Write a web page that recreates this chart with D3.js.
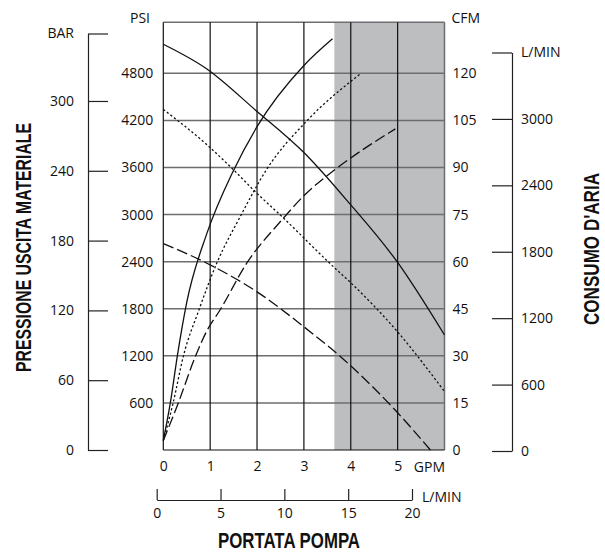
<!DOCTYPE html>
<html>
<head>
<meta charset="utf-8">
<script src="https://cdn.jsdelivr.net/npm/d3@7"></script>
<style>
  body { margin: 0; background: #fff; }
  svg text { font-family: 'Open Sans', 'DejaVu Sans', sans-serif; font-size: 14px; fill: #111; }
  .title { font-family: 'Liberation Sans Narrow', 'Arial Narrow', 'Liberation Sans', sans-serif; font-weight: bold; font-size: 22px; }
</style>
</head>
<body>
<svg id="chart"></svg>
<script>
// tick values
const gpmTicks = [0, 1, 2, 3, 4, 5];
const psiTicks = [600, 1200, 1800, 2400, 3000, 3600, 4200, 4800];
const cfmTicks = [0, 15, 30, 45, 60, 75, 90, 105, 120];
const barTicks = [0, 60, 120, 180, 240, 300];
const airLminTicks = [0, 600, 1200, 1800, 2400, 3000];
const flowLminTicks = [0, 5, 10, 15, 20];

// axis ends
const gpmMax = 6;
const psiMax = 5450;
const cfmPerPsi = 15 / 600;
const barMax = 358;
const airLminMax = 3600;
const flowLminMax = 20;
const shadedFrom = 3.65; // GPM

// pressure curves [GPM, PSI]
const pressureSolid = [[0, 5170], [0.93, 4855], [1.97, 4330], [3.0, 3790], [3.94, 3165], [5.0, 2390], [6.0, 1465]];
const pressureDotted = [[0, 4340], [0.93, 3890], [1.43, 3610], [2.0, 3270], [2.53, 2975], [3.63, 2335], [3.94, 2165], [5.0, 1505], [6.0, 745]];
const pressureDashed = [[0, 2630], [0.93, 2380], [2.0, 2015], [3.0, 1570], [3.94, 1105], [5.0, 475], [5.7, 0]];

// air consumption curves [GPM, CFM]
const airSolid = [[0, 3], [0.15, 15], [0.3, 30], [0.5, 47], [0.93, 69], [1.48, 88.5], [2.0, 103], [3.0, 122.5], [3.61, 131]];
const airDotted = [[0, 3], [0.21, 15], [0.43, 30], [0.76, 44.6], [1.14, 59.5], [1.64, 74.3], [2.21, 89.5], [3.06, 104.8], [4.22, 120]];
const airDashed = [[0, 3], [0.32, 15], [0.69, 30], [0.93, 38], [1.21, 44.6], [1.78, 59.5], [2.53, 73.3], [3.0, 81], [3.65, 89.2], [3.94, 92.4], [4.95, 102.3]];

const width = 605;
const height = 554;
const svg = d3.select('#chart').attr('width', width).attr('height', height);

const plotLeft = 163.3, plotRight = 444.5, plotTop = 22.3, plotBottom = 450;
const intFormat = d3.format('d');

const x = d3.scaleLinear().domain([0, gpmMax]).range([plotLeft, plotRight]);
const yPsi = d3.scaleLinear().domain([0, psiMax]).range([plotBottom, plotTop]);
const yCfm = d3.scaleLinear().domain([0, psiMax * cfmPerPsi]).range([plotBottom, plotTop]);
const yBar = d3.scaleLinear().domain([0, barMax]).range([plotBottom, 33.5]);
const yAirL = d3.scaleLinear().domain([0, airLminMax]).range([451, 52.5]);
const xFlowL = d3.scaleLinear().domain([0, flowLminMax]).range([156.7, 412]);

// -----------------------------------
// shaded zone and grid
svg.append('rect')
  .attr('x', x(shadedFrom)).attr('y', plotTop)
  .attr('width', x(gpmMax) - x(shadedFrom)).attr('height', plotBottom - plotTop)
  .attr('fill', '#bdbec0');

svg.append('g').selectAll('line')
  .data(psiTicks.concat([psiMax]))
  .join('line')
  .attr('x1', plotLeft).attr('x2', plotRight)
  .attr('y1', (d) => yPsi(d)).attr('y2', (d) => yPsi(d))
  .attr('stroke', '#6d6e71').attr('stroke-width', 1.5);

svg.append('g').selectAll('line')
  .data(gpmTicks.slice(1))
  .join('line')
  .attr('x1', (d) => x(d)).attr('x2', (d) => x(d))
  .attr('y1', plotTop).attr('y2', plotBottom)
  .attr('stroke', '#111').attr('stroke-width', 1.2);

svg.append('line').attr('x1', plotRight).attr('x2', plotRight).attr('y1', plotTop).attr('y2', plotBottom)
  .attr('stroke', '#6d6e71').attr('stroke-width', 1.5);
svg.append('line').attr('x1', plotLeft).attr('x2', plotLeft).attr('y1', plotTop).attr('y2', plotBottom)
  .attr('stroke', '#111').attr('stroke-width', 1.2);
svg.append('line').attr('x1', plotLeft).attr('x2', plotRight).attr('y1', plotBottom).attr('y2', plotBottom)
  .attr('stroke', '#111').attr('stroke-width', 1.2);

// -----------------------------------
// curves
const psiLine = d3.line().curve(d3.curveMonotoneX)
  .x((d) => x(d[0]))
  .y((d) => yPsi(d[1]));
const cfmLine = d3.line().curve(d3.curveMonotoneX)
  .x((d) => x(d[0]))
  .y((d) => yCfm(d[1]));

const curves = [
  { data: pressureSolid, line: psiLine, dash: null },
  { data: pressureDotted, line: psiLine, dash: '2.2,2.3' },
  { data: pressureDashed, line: psiLine, dash: '11,4' },
  { data: airSolid, line: cfmLine, dash: null },
  { data: airDotted, line: cfmLine, dash: '2.2,2.3' },
  { data: airDashed, line: cfmLine, dash: '11,4' }
];
curves.forEach((c) => {
  svg.append('path')
    .datum(c.data)
    .attr('d', c.line)
    .attr('fill', 'none')
    .attr('stroke', '#111')
    .attr('stroke-width', 1.3)
    .attr('stroke-dasharray', c.dash);
});

// -----------------------------------
// Draw the axis
const noDomain = (g) => g.select('.domain').remove();

svg.append('g')
  .attr('transform', `translate(${plotLeft}, 0)`)
  .call(d3.axisLeft(yPsi).tickValues(psiTicks).tickFormat(intFormat).tickSize(0).tickPadding(10))
  .call(noDomain);

svg.append('g')
  .attr('transform', `translate(${plotRight}, 0)`)
  .call(d3.axisRight(yCfm).tickValues(cfmTicks).tickFormat(intFormat).tickSize(0).tickPadding(8))
  .call(noDomain);

svg.append('g')
  .attr('transform', `translate(0, ${plotBottom})`)
  .call(d3.axisBottom(x).tickValues(gpmTicks).tickFormat(intFormat).tickSize(0).tickPadding(11.5))
  .call(noDomain);

const barAxis = svg.append('g')
  .attr('transform', 'translate(88, 0)')
  .call(d3.axisLeft(yBar).tickValues(barTicks.concat([barMax])).tickSizeInner(-20).tickSizeOuter(0).tickPadding(14)
    .tickFormat((d) => (d === barMax ? 'BAR' : intFormat(d))));

const airAxis = svg.append('g')
  .attr('transform', 'translate(512, 0)')
  .call(d3.axisRight(yAirL).tickValues(airLminTicks.concat([airLminMax])).tickSizeInner(-20).tickSizeOuter(0).tickPadding(9)
    .tickFormat((d) => (d === airLminMax ? 'L/MIN' : intFormat(d))));

const flowAxis = svg.append('g')
  .attr('transform', 'translate(0, 500)')
  .call(d3.axisBottom(xFlowL).tickValues(flowLminTicks).tickFormat(intFormat).tickSizeInner(-11).tickSizeOuter(0).tickPadding(8.5));

[barAxis, airAxis, flowAxis].forEach((g) => {
  g.selectAll('line, path').attr('stroke', '#222').attr('stroke-width', 1.2);
});
svg.selectAll('g').attr('font-size', null).attr('font-family', null);
svg.selectAll('.tick text').attr('fill', null);

// unit labels
svg.append('text').attr('x', 130).attr('y', 23).text('PSI');
svg.append('text').attr('x', 451.5).attr('y', 23).text('CFM');
svg.append('text').attr('x', 445).attr('y', 472).attr('text-anchor', 'end').text('GPM');
svg.append('text').attr('x', 422).attr('y', 501.5).text('L/MIN');

// titles
svg.append('text').attr('class', 'title')
  .attr('x', 289).attr('y', 547.5).attr('text-anchor', 'middle')
  .attr('textLength', 142).attr('lengthAdjust', 'spacingAndGlyphs')
  .text('PORTATA POMPA');

svg.append('text').attr('class', 'title')
  .attr('transform', 'translate(30.8, 247.5) rotate(-90)')
  .attr('text-anchor', 'middle')
  .attr('textLength', 249).attr('lengthAdjust', 'spacingAndGlyphs')
  .text('PRESSIONE USCITA MATERIALE');

svg.append('text').attr('class', 'title')
  .attr('transform', 'translate(599, 249) rotate(-90)')
  .attr('text-anchor', 'middle')
  .attr('textLength', 152).attr('lengthAdjust', 'spacingAndGlyphs')
  .text("CONSUMO D'ARIA");
</script>
</body>
</html>
